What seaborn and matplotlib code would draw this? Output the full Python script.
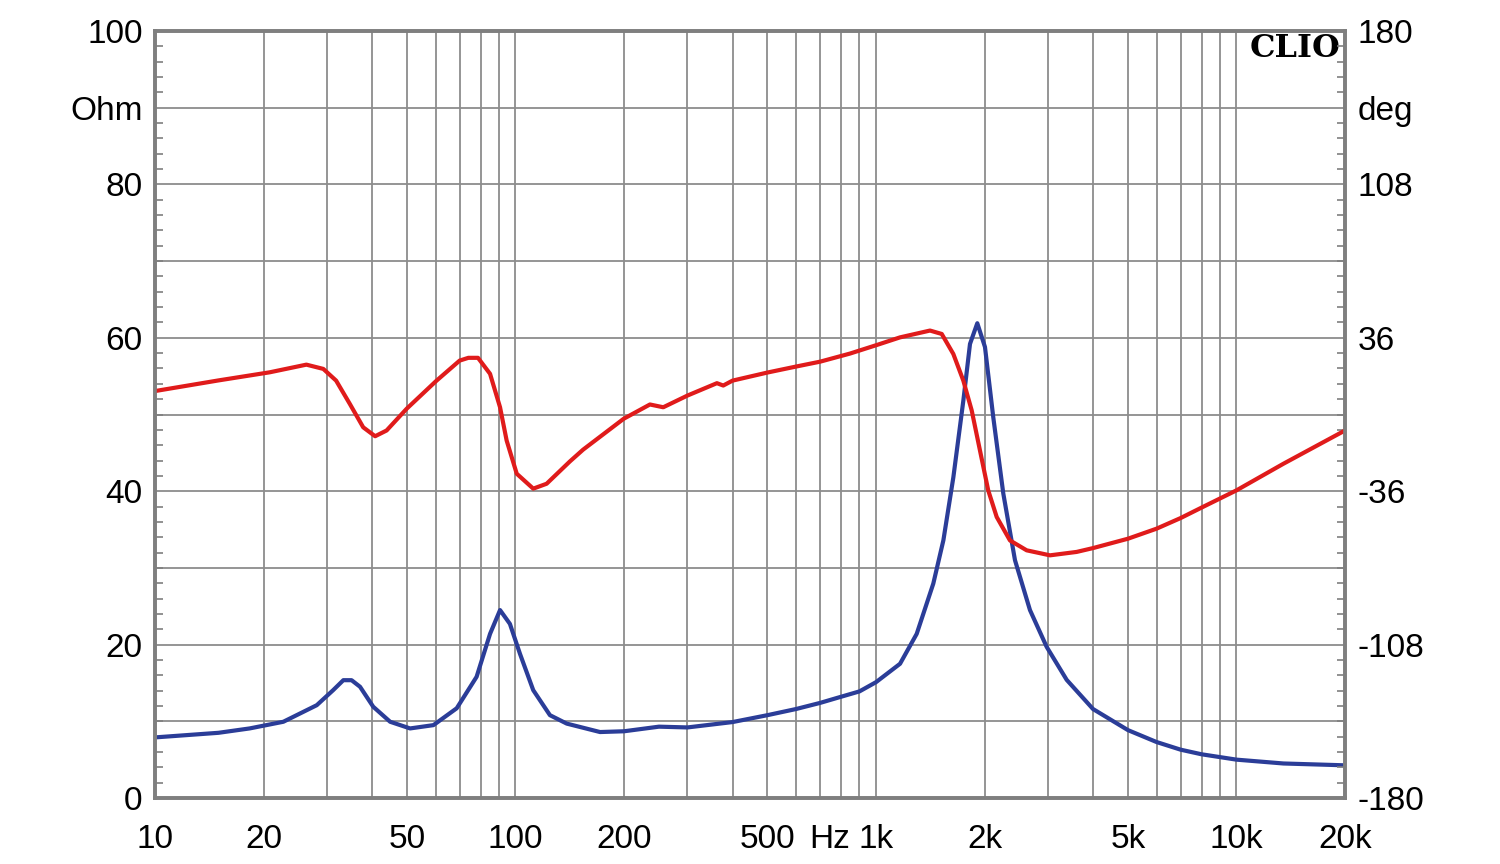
import numpy as np
import pandas as pd
import matplotlib
matplotlib.use("Agg")
import matplotlib.pyplot as plt
import seaborn as sns
from matplotlib.ticker import FixedLocator, NullFormatter
from matplotlib.transforms import blended_transform_factory

# ---- data ----
freq_mag = [10, 15, 18.3, 22.7, 28.1, 31.2, 33.3, 35.1, 37.05, 40.3, 44.9, 51, 59.2, 68.7, 78,
            85, 90.6, 96.5, 102.9, 112, 124.6, 138.7, 171.6, 200, 250, 300, 400, 500, 600, 700,
            800, 900, 1000, 1166, 1297, 1442, 1538, 1639, 1747, 1823, 1910, 2006, 2115, 2255,
            2430, 2674, 2975, 3381, 4000, 5000, 6000, 7000, 8000, 10000, 13500, 20000]
imp_ohm = [7.9, 8.5, 9.07, 9.94, 12.1, 14.06, 15.36, 15.36, 14.5, 11.9, 9.94, 9.07, 9.5, 11.7,
           15.8, 21.4, 24.5, 22.7, 18.8, 14.06, 10.8, 9.7, 8.6, 8.7, 9.3, 9.2, 9.9, 10.8, 11.6,
           12.4, 13.2, 13.9, 15.1, 17.5, 21.4, 27.95, 33.6, 41.8, 51.8, 59.2, 61.9, 58.8, 49.65,
           39.7, 31.0, 24.5, 19.7, 15.4, 11.6, 8.85, 7.3, 6.3, 5.7, 5.0, 4.5, 4.26]

freq_ph = [10, 15, 20.8, 26.3, 29.3, 31.8, 34.7, 37.8, 40.8, 43.9, 49.9, 60.4, 70, 74, 78.7, 85,
           90.6, 94.5, 100.8, 112, 122, 141.6, 154, 199.6, 236, 257, 300, 362, 377, 400, 500,
           600, 700, 847, 1000, 1166, 1412, 1522, 1639, 1747, 1843, 1943, 2048, 2162, 2353,
           2618, 3039, 3603, 4000, 5000, 6000, 7000, 8000, 10000, 13500, 20000]
phase_deg = [11.0, 16.0, 19.8, 23.4, 21.4, 15.9, 5.0, -6.0, -10.2, -7.5, 2.7, 15.9, 25.3, 26.6,
             26.6, 19.1, 3.4, -12.2, -27.8, -34.8, -32.5, -22.0, -16.5, -2.0, 4.7, 3.4, 8.9,
             14.7, 13.6, 15.9, 19.7, 22.5, 24.8, 28.6, 32.5, 36.2, 39.4, 37.8, 28.4, 15.9, 1.9,
             -16.9, -35.6, -48.1, -59.1, -63.75, -66.1, -64.5, -62.7, -58.3, -53.6, -48.6,
             -43.7, -35.6, -23.1, -7.5]

x_major = [10, 20, 50, 100, 200, 500, 1000, 2000, 5000, 10000, 20000]
x_labels = ["10", "20", "50", "100", "200", "500", "1k", "2k", "5k", "10k", "20k"]
y_left_ticks = [0, 20, 40, 60, 80, 90, 100]
y_left_labels = ["0", "20", "40", "60", "80", "Ohm", "100"]
y_right_ticks = [-180, -108, -36, 36, 108, 144, 180]
y_right_labels = ["-180", "-108", "-36", "36", "108", "deg", "180"]

df_mag = pd.DataFrame({"f": freq_mag, "z": imp_ohm})
df_ph = pd.DataFrame({"f": freq_ph, "p": phase_deg})

sns.set_style("white")
plt.rcParams["font.family"] = ["Liberation Sans", "DejaVu Sans"]

fig = plt.figure(figsize=(15, 8.64), dpi=100)
ax = fig.add_axes([155/1500, 1-798/864, 1190/1500, 767/864])
ax2 = ax.twinx()

grid_c = "#8c8c8c"
spine_c = "#7f7f7f"

sns.lineplot(data=df_mag, x="f", y="z", ax=ax, color="#2b3d98", lw=3.0, sort=False,
             solid_joinstyle="round")
sns.lineplot(data=df_ph, x="f", y="p", ax=ax2, color="#e01b1b", lw=3.0, sort=False,
             solid_joinstyle="round")

ax.set_xscale("log")
ax.set_xlim(10, 20000)
ax.set_ylim(0, 100)
ax2.set_ylim(-180, 180)

minor_x = [m * d for d in [10, 100, 1000, 10000] for m in range(1, 10)
           if m * d not in x_major and 10 <= m * d <= 20000]
ax.xaxis.set_major_locator(FixedLocator(x_major))
ax.set_xticklabels(x_labels)
ax.xaxis.set_minor_locator(FixedLocator(minor_x))
ax.xaxis.set_minor_formatter(NullFormatter())

ax.set_yticks(y_left_ticks)
ax.set_yticklabels(y_left_labels)
ax.yaxis.set_minor_locator(FixedLocator(np.arange(0, 101, 2)))
ax2.set_yticks(y_right_ticks)
ax2.set_yticklabels(y_right_labels)
ax2.yaxis.set_minor_locator(FixedLocator(np.arange(-180, 181, 7.2)))

ax.grid(False)
ax2.grid(False)
for fx in x_major[1:-1] + minor_x:
    ax.axvline(fx, color=grid_c, lw=1.3, zorder=0)
for gy in range(10, 100, 10):
    ax.axhline(gy, color=grid_c, lw=1.3, zorder=0)

ax.set_xlabel("")
ax.set_ylabel("")
ax2.set_ylabel("")

fs = 24
ax.tick_params(axis="x", which="both", length=0, pad=19, labelsize=fs, labelcolor="black")
ax.tick_params(axis="y", which="major", length=0, pad=9, labelsize=fs, labelcolor="black")
ax.tick_params(axis="y", which="minor", direction="in", length=6, width=1.2, color=spine_c)
ax2.tick_params(axis="y", which="major", length=0, pad=9, labelsize=fs, labelcolor="black")
ax2.tick_params(axis="y", which="minor", direction="in", length=6, width=1.2, color=spine_c)

for a in (ax, ax2):
    for s in a.spines.values():
        s.set_visible(True)
        s.set_color(spine_c)
        s.set_linewidth(2.6)

trans = blended_transform_factory(ax.transData, ax.transAxes)
ax.text(745, -19 * 100 / 72 / 767, "Hz", transform=trans, ha="center", va="top", fontsize=fs,
        color="black")

ax.text(0.996, 0.997, "CLIO", transform=ax.transAxes, ha="right", va="top",
        fontsize=23, fontweight="bold", color="black", family=["DejaVu Serif"])

fig.savefig("out.png", dpi=100)
